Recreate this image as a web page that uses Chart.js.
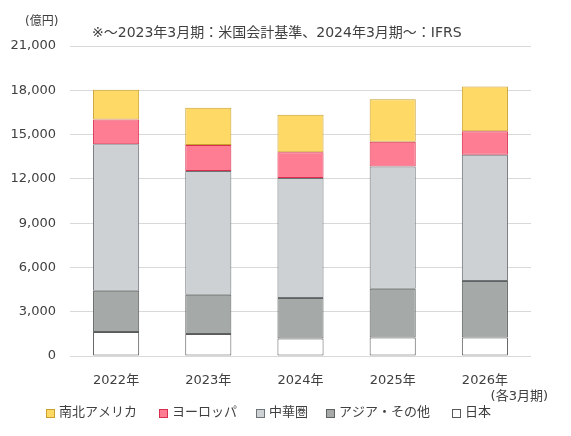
<!DOCTYPE html>
<html>
<head>
<meta charset="utf-8">
<script src="https://cdn.jsdelivr.net/npm/chart.js@4/dist/chart.umd.min.js"></script>
<style>
  html, body { margin: 0; padding: 0; background: #fff; }
  #wrap { width: 571px; height: 436px; }
</style>
</head>
<body>
<div id="wrap"><canvas id="chart"></canvas></div>
<script>
const years = ['2022年', '2023年', '2024年', '2025年', '2026年'];
const japan = [1620, 1490, 1190, 1260, 1260];
const asia = [2800, 2660, 2740, 3300, 3820];
const china = [9930, 8380, 8120, 8280, 8550];
const europe = [1670, 1760, 1760, 1670, 1600];
const americas = [2010, 2520, 2530, 2890, 3020];
const yTicks = [0, 3000, 6000, 9000, 12000, 15000, 18000, 21000];

const FONT = '"DejaVu Sans", "Noto Sans CJK JP", sans-serif';
const TEXT = '#404040';
// left edge of each legend entry, in legend order
const legendX = [46, 159, 256, 326, 452];

// custom texts + legend (legend order is top-down of the stack)
const extras = {
  id: 'extras',
  afterDraw(chart) {
    const ctx = chart.ctx;
    ctx.save();
    ctx.fillStyle = TEXT;
    ctx.textBaseline = 'middle';

    ctx.font = '12px ' + FONT;
    ctx.textAlign = 'left';
    ctx.fillText('(億円)', 25, 22);

    ctx.font = '14px ' + FONT;
    ctx.fillText('※～2023年3月期：米国会計基準、2024年3月期～：IFRS', 92, 33);

    ctx.font = '13px ' + FONT;
    ctx.textAlign = 'right';
    ctx.fillText('(各3月期)', 548, 397);

    ctx.textAlign = 'left';
    const y = 413;
    const items = chart.data.datasets.slice().reverse();
    items.forEach((ds, i) => {
      const x = legendX[i];
      ctx.fillStyle = ds.backgroundColor;
      ctx.strokeStyle = ds.borderColor;
      ctx.lineWidth = 1;
      ctx.fillRect(x + 0.5, y - 3.5, 8, 8);
      ctx.strokeRect(x + 0.5, y - 3.5, 8, 8);
      ctx.fillStyle = TEXT;
      ctx.fillText(ds.label, x + 13, y);
    });
    ctx.restore();
  }
};

const mk = (label, data, bg, border) => ({
  label, data,
  backgroundColor: bg,
  borderColor: border,
  borderWidth: 1,
  borderSkipped: false,
  categoryPercentage: 1,
  barPercentage: 0.5
});

new Chart(document.getElementById('chart').getContext('2d'), {
  type: 'bar',
  data: {
    labels: years,
    datasets: [
      mk('日本', japan, '#FFFFFF', '#5A5A5A'),
      mk('アジア・その他', asia, '#A5A9A7', '#5E6361'),
      mk('中華圏', china, '#CDD1D4', '#6E7377'),
      mk('ヨーロッパ', europe, '#FF7D93', '#D9304F'),
      mk('南北アメリカ', americas, '#FFD966', '#C9A12E')
    ]
  },
  options: {
    responsive: true,
    maintainAspectRatio: false,
    animation: false,
    layout: { padding: { left: 0, right: 40, top: 46, bottom: 50 } },
    plugins: {
      legend: { display: false },
      title: { display: false },
      tooltip: { enabled: false }
    },
    scales: {
      x: {
        stacked: true,
        grid: { display: false, drawTicks: false },
        border: { display: false },
        ticks: { color: TEXT, font: { family: FONT, size: 13 }, padding: 17 },
        afterFit: s => { s.height = 30; }
      },
      y: {
        stacked: true,
        min: 0,
        max: 21000,
        afterBuildTicks: s => { s.ticks = yTicks.map(v => ({ value: v })); },
        grid: { color: '#D9D9D9', lineWidth: 1, drawTicks: false },
        border: { display: false },
        ticks: {
          color: TEXT,
          font: { family: FONT, size: 13 },
          padding: 14,
          callback: v => v.toLocaleString('en-US')
        },
        afterFit: s => { s.width = 70; }
      }
    }
  },
  plugins: [extras]
});
</script>
</body>
</html>
